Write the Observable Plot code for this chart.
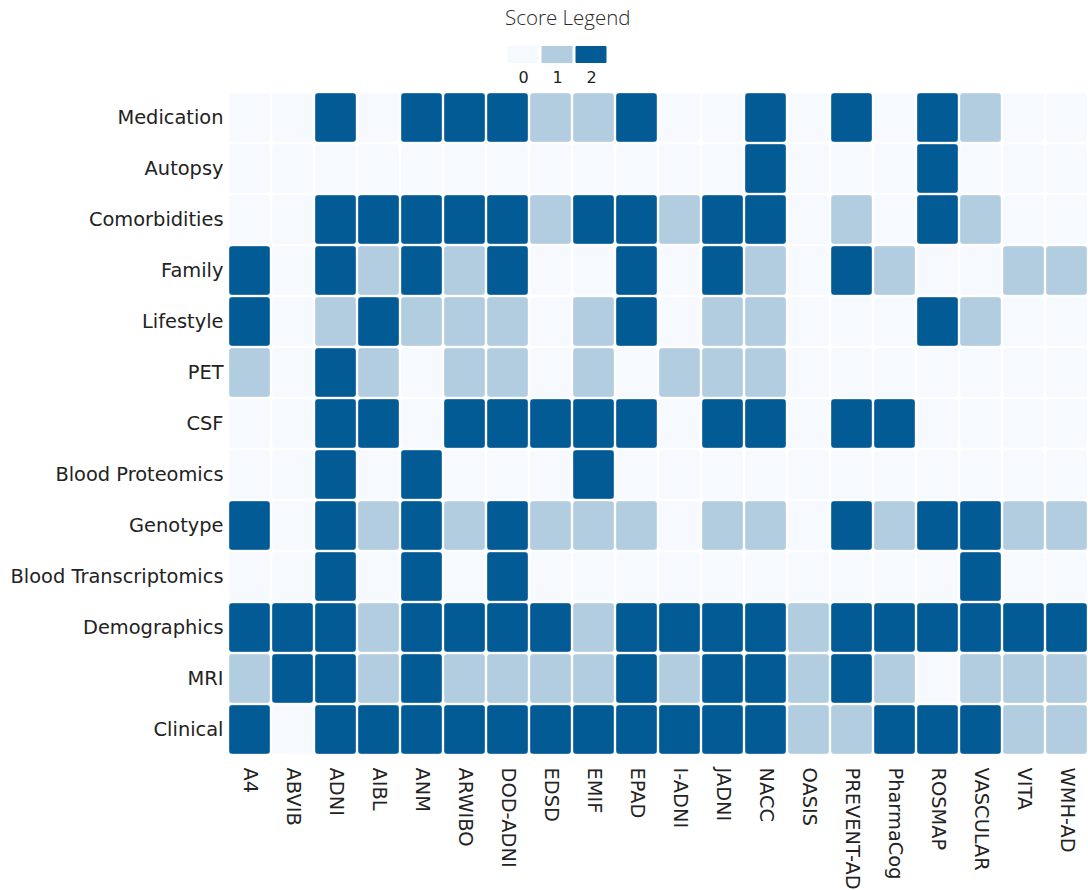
<!DOCTYPE html>
<html>
<head>
<meta charset="utf-8">
<script src="https://cdn.jsdelivr.net/npm/d3@7"></script>
<script src="https://cdn.jsdelivr.net/npm/@observablehq/plot@0.6"></script>
<style>
  html, body { margin: 0; padding: 0; background: #fff; }
  #wrap { position: relative; width: 1088px; height: 890px; overflow: hidden; }
  #title { position: absolute; left: 505px; top: 3px; font-family: "Open Sans", sans-serif; font-weight: 300; font-size: 20.5px; line-height: 28px; color: #2a2a2a; white-space: nowrap; }
  #legend { position: absolute; left: 505px; top: 46px; }
  #chart { position: absolute; left: 0; top: 0; }
</style>
</head>
<body>
<div id="wrap">
  <div id="chart"></div>
  <div id="title">Score Legend</div>
  <div id="legend"></div>
</div>
<script>
const datasets = ["A4","ABVIB","ADNI","AIBL","ANM","ARWIBO","DOD-ADNI","EDSD","EMIF","EPAD","I-ADNI","JADNI","NACC","OASIS","PREVENT-AD","PharmaCog","ROSMAP","VASCULAR","VITA","WMH-AD"];
const modalities = ["Medication","Autopsy","Comorbidities","Family","Lifestyle","PET","CSF","Blood Proteomics","Genotype","Blood Transcriptomics","Demographics","MRI","Clinical"];
const scoreLevels = [0, 1, 2];
const scoreColors = ["#f6f9fe", "#b3cde0", "#035b96"];

const medication            = [0,0,2,0,2,2,2,1,1,2,0,0,2,0,2,0,2,1,0,0];
const autopsy               = [0,0,0,0,0,0,0,0,0,0,0,0,2,0,0,0,2,0,0,0];
const comorbidities         = [0,0,2,2,2,2,2,1,2,2,1,2,2,0,1,0,2,1,0,0];
const family                = [2,0,2,1,2,1,2,0,0,2,0,2,1,0,2,1,0,0,1,1];
const lifestyle             = [2,0,1,2,1,1,1,0,1,2,0,1,1,0,0,0,2,1,0,0];
const pet                   = [1,0,2,1,0,1,1,0,1,0,1,1,1,0,0,0,0,0,0,0];
const csf                   = [0,0,2,2,0,2,2,2,2,2,0,2,2,0,2,2,0,0,0,0];
const bloodProteomics       = [0,0,2,0,2,0,0,0,2,0,0,0,0,0,0,0,0,0,0,0];
const genotype              = [2,0,2,1,2,1,2,1,1,1,0,1,1,0,2,1,2,2,1,1];
const bloodTranscriptomics  = [0,0,2,0,2,0,2,0,0,0,0,0,0,0,0,0,0,2,0,0];
const demographics          = [2,2,2,1,2,2,2,2,1,2,2,2,2,1,2,2,2,2,2,2];
const mri                   = [1,2,2,1,2,1,1,1,1,2,1,2,2,1,2,1,0,1,1,1];
const clinical              = [2,0,2,2,2,2,2,2,2,2,2,2,2,1,1,2,2,2,1,1];

const rowsValues = [medication, autopsy, comorbidities, family, lifestyle, pet, csf,
  bloodProteomics, genotype, bloodTranscriptomics, demographics, mri, clinical];

const table = [];
modalities.forEach((m, i) => {
  datasets.forEach((d, j) => table.push({modality: m, dataset: d, score: rowsValues[i][j]}));
});

const chart = Plot.plot({
  width: 1088,
  height: 890,
  marginLeft: 228,
  marginRight: 0,
  marginTop: 91,
  marginBottom: 134,
  style: {fontFamily: "DejaVu Sans", fontSize: "19.4px", color: "#222", background: "transparent"},
  x: {domain: datasets, padding: 0, label: null, tickSize: 0, tickPadding: 11, tickRotate: 90},
  y: {domain: modalities, padding: 0, label: null, tickSize: 0, tickPadding: 5},
  color: {type: "ordinal", domain: scoreLevels, range: scoreColors},
  marks: [
    Plot.cell(table, {x: "dataset", y: "modality", fill: "score", inset: 1, rx: 3, stroke: "#ffffff", strokeOpacity: 0.35, strokeWidth: 1})
  ]
});
document.getElementById("chart").appendChild(chart);

const legend = Plot.plot({
  width: 104,
  height: 42,
  marginLeft: 0,
  marginRight: 0,
  marginTop: 0,
  marginBottom: 25,
  style: {fontFamily: "DejaVu Sans", fontSize: "16px", color: "#222", background: "transparent"},
  x: {domain: scoreLevels, padding: 0, label: null, tickSize: 0, tickPadding: 8},
  y: {axis: null},
  color: {type: "ordinal", domain: scoreLevels, range: scoreColors},
  marks: [
    Plot.cell(scoreLevels, {x: d => d, fill: d => d, insetLeft: 1.5, insetRight: 1.5, rx: 1})
  ]
});
document.getElementById("legend").appendChild(legend);
</script>
</body>
</html>
